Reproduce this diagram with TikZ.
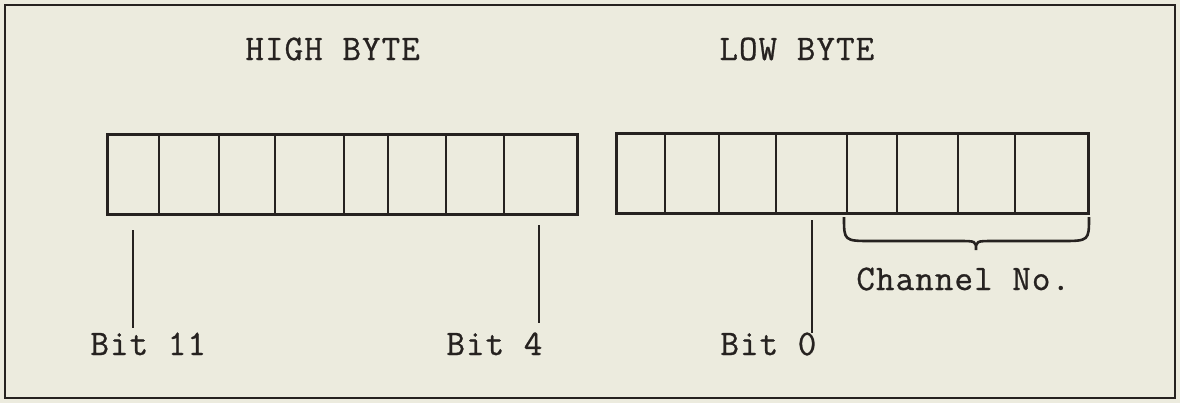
\documentclass[tikz,border=0pt]{standalone}
\usepackage{fontspec}
\setmonofont{Latin Modern Mono}[LetterSpace=3,FakeBold=0.8]
\definecolor{paper}{RGB}{236,235,222}
\definecolor{ink}{RGB}{38,34,32}
\begin{document}
\begin{tikzpicture}[x=0.5pt,y=-0.5pt,
    label/.style={inner sep=0pt,anchor=base west,text=ink,
      font=\ttfamily\fontsize{18}{21}\selectfont},
    cellrule/.style={draw=ink,line width=1.1pt},
    boxrule/.style={draw=ink,line width=1.5pt},
    leader/.style={draw=ink,line width=1.3pt},
  ]
  % paper and outer frame
  \fill[paper] (0,0) rectangle (1180,403);
  \useasboundingbox (0,0) rectangle (1180,403);
  \draw[ink,line width=1pt] (5,5) rectangle (1175,398);

  % headings
  \node[label] (hi) at (245,60) {HIGH BYTE};
  \node[label] (lo) at (719,60) {LOW BYTE};

  % high byte register: eight cells
  \foreach \x in {159,219,275,344,388,446,504}
    \draw[cellrule] (\x,134) -- (\x,214);
  \draw[boxrule] (107,134) rectangle (577,214);

  % low byte register: eight cells
  \foreach \x in {665,719,776,847,897,958,1015}
    \draw[cellrule] (\x,133) -- (\x,213);
  \draw[boxrule] (616,133) rectangle (1088,213);

  % bit labels with their leader lines
  \node[label] (b11) at (90,355) {Bit 11};
  \node[label] (b4)  at (446,355) {Bit 4};
  \node[label] (b0)  at (720,355) {Bit 0};
  \coordinate (t11) at (133,230);
  \coordinate (e11) at (133,328);
  \coordinate (t4)  at (539,225);
  \coordinate (e4)  at (539,323);
  \coordinate (t0)  at (812,220);
  \coordinate (e0)  at (812,333);
  \draw[leader] (t11) -- (e11);
  \draw[leader] (t4) -- (e4);
  \draw[leader] (t0) -- (e0);

  % brace over the four channel bits
  \coordinate (bl) at (844,217);
  \coordinate (br) at (1089,217);
  \coordinate (tip) at (976,250);
  \draw[ink,line width=1.3pt] (bl) .. controls (844,241) .. (872,241)
    -- (958,241) .. controls (976,241) .. (tip)
    .. controls (976,241) .. (994,241) -- (1061,241)
    .. controls (1089,241) .. (br);
  \node[label] (ch) at (856,290) {Channel No.};
\end{tikzpicture}
\end{document}
